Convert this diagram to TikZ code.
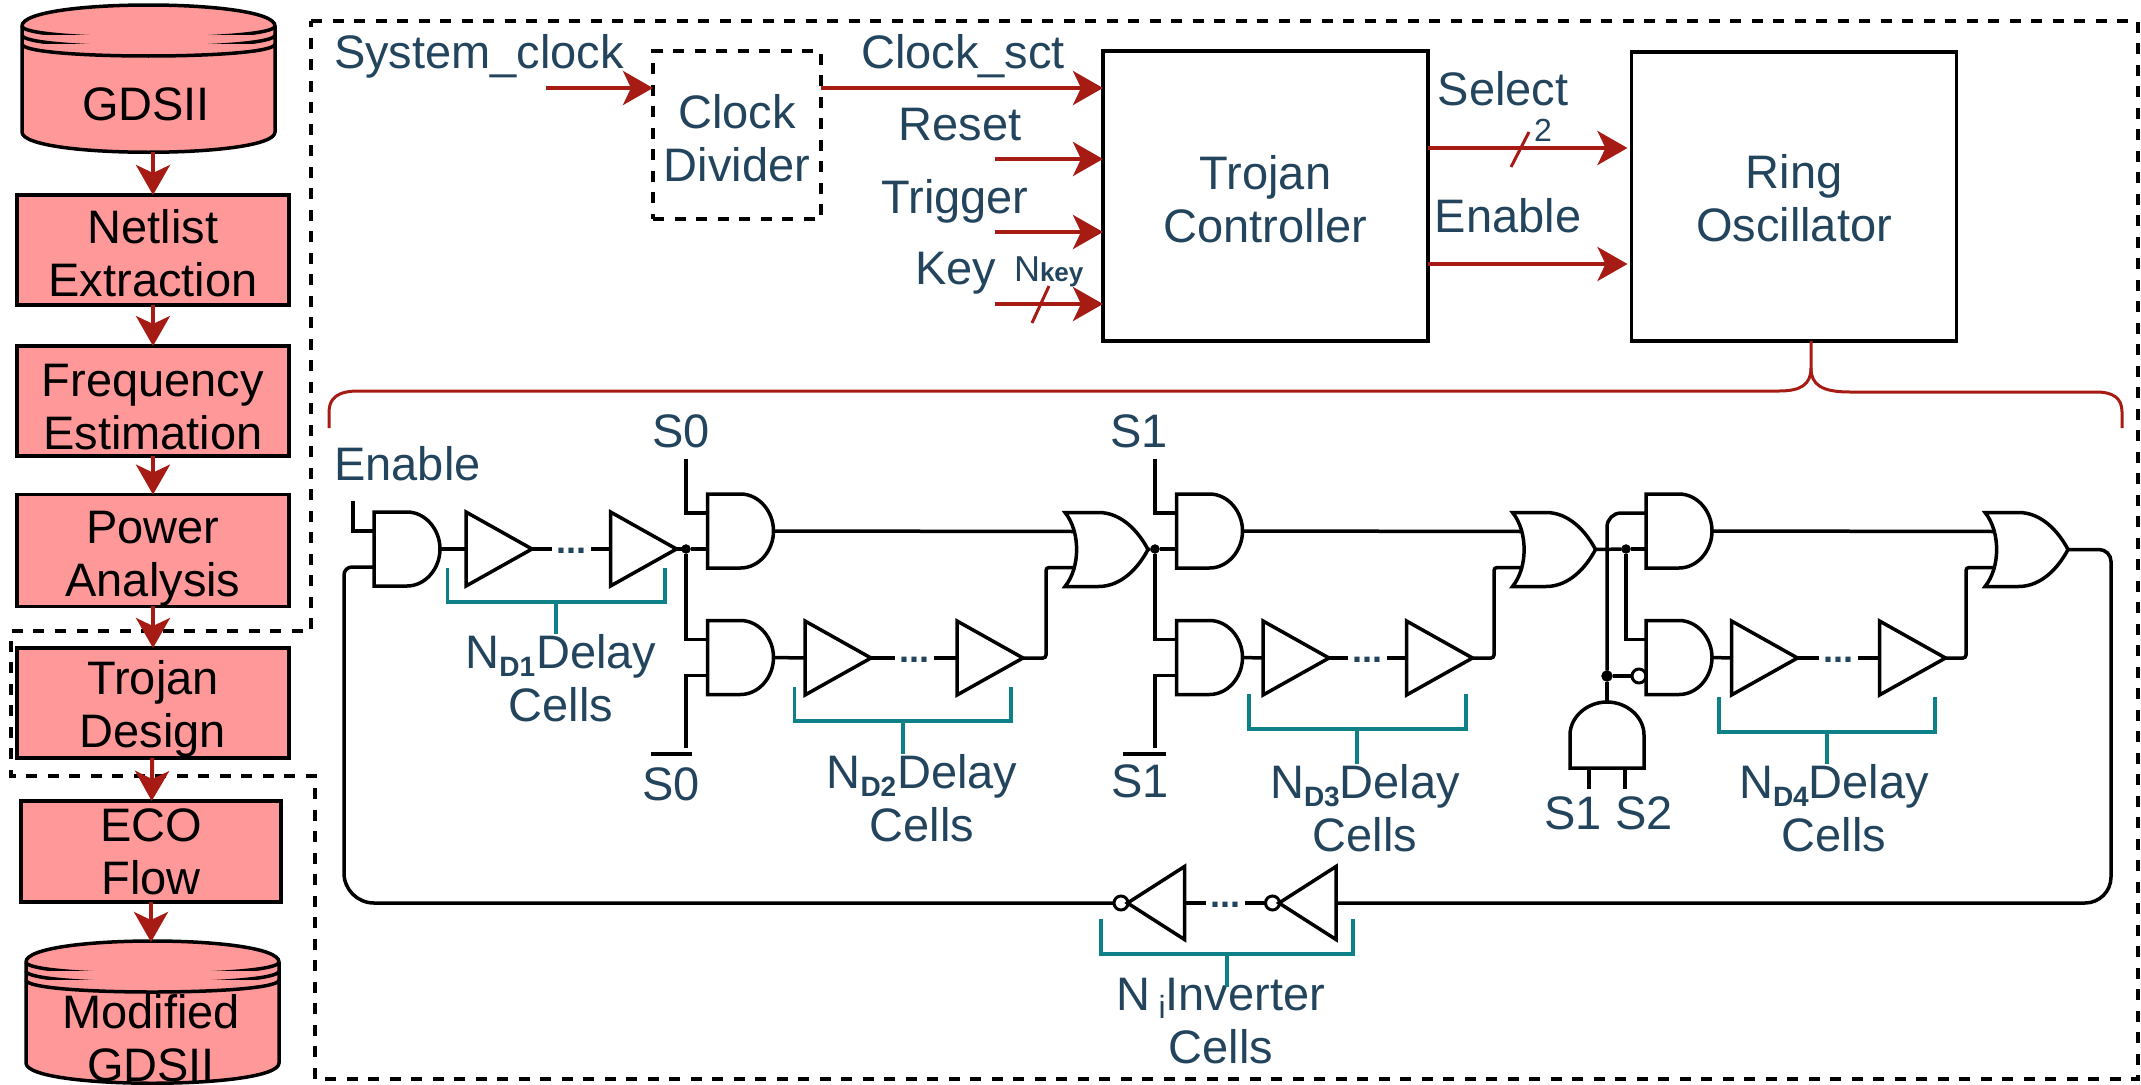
\documentclass[tikz,border=0pt]{standalone}
\usepackage{fontspec}
\setmainfont{Liberation Sans}
\usepackage{tikz}
\usetikzlibrary{arrows.meta}
\definecolor{flowpink}{HTML}{FF9999}
\definecolor{flowred}{HTML}{A61C14}
\definecolor{labblue}{HTML}{23445D}
\definecolor{cellteal}{HTML}{0E8088}
\newcommand{\lab}{\fontsize{47}{53}\selectfont}
\newcommand{\sbs}[1]{\raisebox{-8pt}{\fontsize{28}{28}\selectfont\bfseries #1}}
\newcommand{\dn}[1]{\rule{0pt}{#1pt}}
\newcommand{\datastore}[6]{
  \draw[storeline] (#2-#4/2,#3+#6) .. controls (#2-#4/2,#3+#6-28) and (#2+#4/2,#3+#6-28) .. (#2+#4/2,#3+#6)
    -- (#2+#4/2,#5-20) .. controls (#2+#4/2,#5+7) and (#2-#4/2,#5+7) .. (#2-#4/2,#5-20) -- cycle;
  \draw[storeline] (#2-#4/2,#3+#6) .. controls (#2-#4/2,#3+#6+16) and (#2+#4/2,#3+#6+16) .. (#2+#4/2,#3+#6);
  \draw[storeline] (#2-#4/2,#3+#6+9) .. controls (#2-#4/2,#3+#6+25) and (#2+#4/2,#3+#6+25) .. (#2+#4/2,#3+#6+9);
  \draw[storeline] (#2-#4/2,#3+#6+18) .. controls (#2-#4/2,#3+#6+34) and (#2+#4/2,#3+#6+34) .. (#2+#4/2,#3+#6+18);
  \node[minimum width=#4,minimum height=#5-#3] (#1) at (#2,#3/2+#5/2) {};
}
\newcommand{\andgate}[4][]{
  \begin{scope}[shift={(#3,#4)},#1]
    \node[minimum width=66pt,minimum height=74pt] (#2) at (0,0) {};
    \draw[wire] (-33,-37) -- (0,-37) .. controls (18,-37) and (33,-20) .. (33,0)
      .. controls (33,20) and (18,37) .. (0,37) -- (-33,37) -- cycle;
    \coordinate (#2 in1) at (-33,-18);
    \coordinate (#2 in2) at (-33,18);
    \coordinate (#2 out) at (33,0);
  \end{scope}
}
\newcommand{\orgate}[3]{
  \begin{scope}[shift={(#2,#3)}]
    \node[minimum width=83pt,minimum height=74pt] (#1) at (0,0) {};
    \draw[wire] (-41.5,-37) -- (-8,-37) .. controls (15,-37) and (32,-18) .. (41.5,0)
      .. controls (32,18) and (15,37) .. (-8,37) -- (-41.5,37) .. controls (-26,18) and (-26,-18) .. cycle;
    \coordinate (#1 in1) at (-31,-18);
    \coordinate (#1 in2) at (-31,18);
    \coordinate (#1 out) at (41.5,0);
  \end{scope}
}
\newcommand{\bufgate}[3]{
  \begin{scope}[shift={(#2,#3)}]
    \node[minimum width=66pt,minimum height=74pt] (#1) at (0,0) {};
    \draw[wire] (-33,-37) -- (33,0) -- (-33,37) -- cycle;
    \coordinate (#1 in) at (-33,0);
    \coordinate (#1 out) at (33,0);
  \end{scope}
}
\newcommand{\invgate}[3]{
  \begin{scope}[shift={(#2,#3)}]
    \node[minimum width=57pt,minimum height=73pt] (#1) at (0,0) {};
    \draw[wire] (28.5,-36.5) -- (-28.5,0) -- (28.5,36.5) -- cycle;
    \node[bubble] (#1 neg) at (-35,0) {};
    \coordinate (#1 in) at (28.5,0);
    \coordinate (#1 out) at (-42,0);
  \end{scope}
}

\begin{document}
\begin{tikzpicture}[x=1pt,y=-1pt]
  \tikzstyle{every node}=[font=\lab,inner sep=0pt,outer sep=0pt]
  \tikzstyle{storeline}=[draw=black,fill=flowpink,line width=3.5pt]
  \tikzstyle{flowbox}=[draw,fill=flowpink,line width=3.5pt,align=center]
  \tikzstyle{block}=[draw,line width=3.5pt,align=center,text=labblue]
  \tikzstyle{lab}=[text=labblue,anchor=base]
  \tikzstyle{multilab}=[text=labblue,align=center]
  \tikzstyle{flow}=[draw=flowred,line width=4pt,-{Stealth[length=30pt,width=34pt,inset=8pt]}]
  \tikzstyle{tick}=[draw=flowred,line width=3pt]
  \tikzstyle{brace}=[draw=flowred,line width=3pt]
  \tikzstyle{wire}=[draw=black,line width=3.5pt]
  \tikzstyle{bracket}=[draw=cellteal,line width=3.5pt]
  \tikzstyle{outline}=[draw=black,line width=3.5pt,dash pattern=on 11pt off 10.5pt]
  \tikzstyle{bubble}=[circle,draw=black,line width=3pt,minimum size=14pt]
  \tikzstyle{dot}=[circle,fill=black,draw=black,minimum size=9pt]
  \tikzstyle{gapdots}=[fill=white,inner xsep=4.5pt,text=labblue,font=\fontsize{36}{36}\selectfont\bfseries,text height=8pt,text depth=0pt]
  \useasboundingbox (0,0) rectangle (2141,1084);

  \draw[outline] (311,21) -- (2138,21) -- (2138,1079) -- (315,1079) -- (315,776) -- (11,776) -- (11,631) -- (311,631) -- cycle;

  \datastore{gds}{148.5}{5}{253}{152}{21}
  \node (gdstxt) at (146,104) {GDSII};
  \node[flowbox,minimum width=272pt,minimum height=110pt] (netlist) at (153,250) {\dn{41}Netlist\\Extraction};
  \node[flowbox,minimum width=272pt,minimum height=110pt] (freq) at (153,401) {\dn{44}Frequency\\Estimation};
  \node[flowbox,minimum width=272pt,minimum height=110pt] (power) at (153,550.5) {\dn{49}Power\\Analysis};
  \node[flowbox,minimum width=272pt,minimum height=110pt] (design) at (153,703) {\dn{45}Trojan\\Design};
  \node[flowbox,minimum width=260pt,minimum height=101pt] (eco) at (151,851.5) {ECO\\Flow};
  \datastore{modgds}{152.5}{942}{253}{1083}{20}
  \node[align=center] (modtxt) at (151,1038) {Modified\\GDSII};
  \path[]
    (gds.south -| netlist.north) edge[flow] (netlist.north)
    (netlist) edge[flow] (freq)
    (freq) edge[flow] (power)
    (power) edge[flow] (design)
    (design) edge[flow] (eco)
    (eco) edge[flow] (modgds.north -| eco.south);

  \node[outline,minimum width=168pt,minimum height=168pt,align=center,text=labblue] (clkdiv) at (737,135) {\dn{40}Clock\\Divider};
  \node[block,minimum width=325pt,minimum height=290pt] (ctrl) at (1265.5,196) {\dn{40}Trojan\\Controller};
  \node[block,minimum width=325pt,minimum height=289pt] (ring) at (1794,196.5) {\dn{38}Ring\\Oscillator};
  \coordinate (clkin) at (546,88);
  \coordinate (rstin) at (995,159);
  \coordinate (trgin) at (995,232);
  \coordinate (keyin) at (995,304);
  \coordinate (selout) at (1428,148);
  \coordinate (enout) at (1428,264);
  \path[]
    (clkin) edge[flow] (clkin -| clkdiv.west)
    (clkin -| clkdiv.east) edge[flow] (clkin -| ctrl.west)
    (rstin) edge[flow] (rstin -| ctrl.west)
    (trgin) edge[flow] (trgin -| ctrl.west)
    (keyin) edge[flow] (keyin -| ctrl.west)
    (selout) edge[flow,shorten >=4pt] (selout -| ring.west)
    (enout) edge[flow,shorten >=4pt] (enout -| ring.west);
  \coordinate (keytka) at (1032,323);
  \coordinate (keytkb) at (1049,286);
  \coordinate (seltka) at (1511,167);
  \coordinate (seltkb) at (1529,132);
  \draw[tick] (keytka) -- (keytkb);
  \draw[tick] (seltka) -- (seltkb);
  \node[lab] (sysclk) at (479,68) {System\_clock};
  \node[lab] (clksct) at (963,68) {Clock\_sct};
  \node[lab] (reset) at (960,140) {Reset};
  \node[lab] (trigger) at (955,213) {Trigger};
  \node[lab] (key) at (956,284) {Key};
  \node[lab,anchor=base west,font=\fontsize{36}{36}\selectfont] (nkey) at (1014,281) {N{\fontsize{26}{26}\selectfont\bfseries key}};
  \node[lab] (select) at (1503,105) {Select};
  \node[lab,font=\fontsize{32}{32}\selectfont] (seltwo) at (1543,141) {2};
  \node[lab] (enable) at (1508,232) {Enable};

  \coordinate (bracel) at (329,428);
  \coordinate (bracer) at (2122,428);
  \coordinate (bracec) at (1811,368);
  \draw[brace] (bracel) -- (329,412) .. controls (329,398) and (338,391) .. (358,391) -- (1779,391)
    .. controls (1800,391) and (1811,385) .. (bracec) -- ([xshift=17pt]ring.south);
  \draw[brace] (bracer) -- (2122,412) .. controls (2122,398) and (2113,392) .. (2096,392) -- (1850,392)
    .. controls (1822,392) and (1811,385) .. (bracec);

  \andgate{and1}{407}{549}
  \bufgate{buf1}{499}{549}
  \bufgate{buf2}{643.5}{549}
  \andgate{and2}{740.5}{531}
  \andgate{and3}{740.5}{657.5}
  \bufgate{buf3}{838}{658}
  \bufgate{buf4}{990}{658}
  \orgate{or1}{1106.5}{549.5}
  \andgate{and4}{1209.5}{531}
  \andgate{and5}{1209.5}{657.5}
  \bufgate{buf5}{1296}{658}
  \bufgate{buf6}{1439.5}{658}
  \orgate{or2}{1554}{549.5}
  \andgate{and6}{1679}{531}
  \andgate{and7}{1679}{657.5}
  \andgate[rotate=90]{and8}{1607}{735}
  \bufgate{buf7}{1764.5}{658}
  \bufgate{buf8}{1912.5}{658}
  \orgate{or3}{2026.5}{549.5}
  \invgate{inv1}{1156}{903}
  \invgate{inv2}{1307.5}{903}

  \node[dot] (jct0) at (686,549) {};
  \node[dot] (jct1) at (1155,549) {};
  \node[dot] (jct2) at (1626,549) {};
  \node[dot,minimum size=11pt] (jct3) at (1607,676) {};
  \node[bubble] (and7neg) at (1639,676) {};
  \coordinate (enstub) at (353,501);
  \coordinate (s0top) at (686,459);
  \coordinate (s0bot) at (686,748);
  \coordinate (s1top) at (1155,459);
  \coordinate (s1bot) at (1155,748);
  \coordinate (s1stub) at (1589,789);
  \coordinate (s2stub) at (1625,789);
  \coordinate (knee1) at (1046,610);
  \coordinate (knee2) at (1494,610);
  \coordinate (knee3) at (1966,610);
  \coordinate (retl) at (344,700);
  \coordinate (retr) at (2111,700);

  \path[wire]
    (and1 out) edge (buf1 in)
    (buf1 out) edge node[gapdots] (dots1) {...} (buf2 in)
    (buf2 out) edge (jct0)
    (jct0) edge (and2 in2)
    (and2 out) edge (or1 in1)
    (and3 out) edge (buf3 in)
    (buf3 out) edge node[gapdots] (dots2) {...} (buf4 in)
    (or1 out) edge (jct1)
    (jct1) edge (and4 in2)
    (and4 out) edge (or2 in1)
    (and5 out) edge (buf5 in)
    (buf5 out) edge node[gapdots] (dots3) {...} (buf6 in)
    (or2 out) edge (jct2)
    (jct2) edge (and6 in2)
    (and6 out) edge (or3 in1)
    (and7 out) edge (buf7 in)
    (buf7 out) edge node[gapdots] (dots4) {...} (buf8 in)
    (inv2 out) edge node[gapdots] (dots5) {...} (inv1 in)
    (jct3) edge (and7neg)
    (jct3) edge (and8 out)
    (and8 in1) edge (s1stub)
    (and8 in2) edge (s2stub);
  \draw[wire] (enstub) |- (and1 in1);
  \draw[wire] (s0top) |- (and2 in1);
  \draw[wire] (jct0) |- (and3 in1);
  \draw[wire] (s0bot) |- (and3 in2);
  \draw[wire] (s1top) |- (and4 in1);
  \draw[wire] (jct1) |- (and5 in1);
  \draw[wire] (s1bot) |- (and5 in2);
  \draw[wire] (jct2) |- (and7 in1);
  \draw[wire,rounded corners=14pt] (and6 in1) -| (jct3);
  \draw[wire,rounded corners=3pt] (buf4 out) -| (knee1) |- (or1 in2);
  \draw[wire,rounded corners=3pt] (buf6 out) -| (knee2) |- (or2 in2);
  \draw[wire,rounded corners=3pt] (buf8 out) -| (knee3) |- (or3 in2);
  \draw[wire,rounded corners=30pt] (inv1 out) -| (retl) [rounded corners=8pt] |- (and1 in2);
  \draw[wire,rounded corners=12pt] (or3 out) -| (retr) [rounded corners=26pt] |- (inv2 in);

  \node[lab] (enlab) at (407.5,480) {Enable};
  \node[lab] (s0up) at (681,447) {S0};
  \node[lab] (s0dn) at (671,800) {S0};
  \node[lab] (s1up) at (1139,447) {S1};
  \node[lab] (s1dn) at (1140,797) {S1};
  \node[lab] (s1in) at (1573,829) {S1};
  \node[lab] (s2in) at (1644,829) {S2};
  \draw[wire] (651,754) -- (692,754);
  \draw[wire] (1123,754) -- (1166,754);

  \node[multilab] (nd1) at (561,678) {N\sbs{D1}\hspace{1pt}Delay\\Cells};
  \node[multilab] (nd2) at (922,798) {N\sbs{D2}\hspace{1pt}Delay\\Cells};
  \node[multilab] (nd3) at (1365,808) {N\sbs{D3}Delay\\Cells};
  \node[multilab] (nd4) at (1834,808) {N\sbs{D4}Delay\\Cells};
  \node[multilab] (ninv) at (1221,1021) {N\,\raisebox{-8pt}{\fontsize{32}{32}\selectfont i}Inverter\\Cells};
  \coordinate (stem1) at (556,602);
  \coordinate (stem2) at (903,721);
  \coordinate (stem3) at (1357,729);
  \coordinate (stem4) at (1827,732);
  \coordinate (stem5) at (1227,954);
  \draw[bracket] (447.5,568) |- (665,602) -- (665,568);
  \draw[bracket] (794.5,687) |- (1011,721) -- (1011,687);
  \draw[bracket] (1249,694) |- (1466,729) -- (1466,694);
  \draw[bracket] (1719,697) |- (1935,732) -- (1935,697);
  \draw[bracket] (1101,919) |- (1353,954) -- (1353,919);
  \draw[bracket] (stem1) -- (stem1 |- nd1.north);
  \draw[bracket] (stem2) -- (stem2 |- nd2.north);
  \draw[bracket] (stem3) -- (stem3 |- nd3.north);
  \draw[bracket] (stem4) -- (stem4 |- nd4.north);
  \draw[bracket] (stem5) -- ([yshift=-9pt]stem5 |- ninv.north);
\end{tikzpicture}
\end{document}
